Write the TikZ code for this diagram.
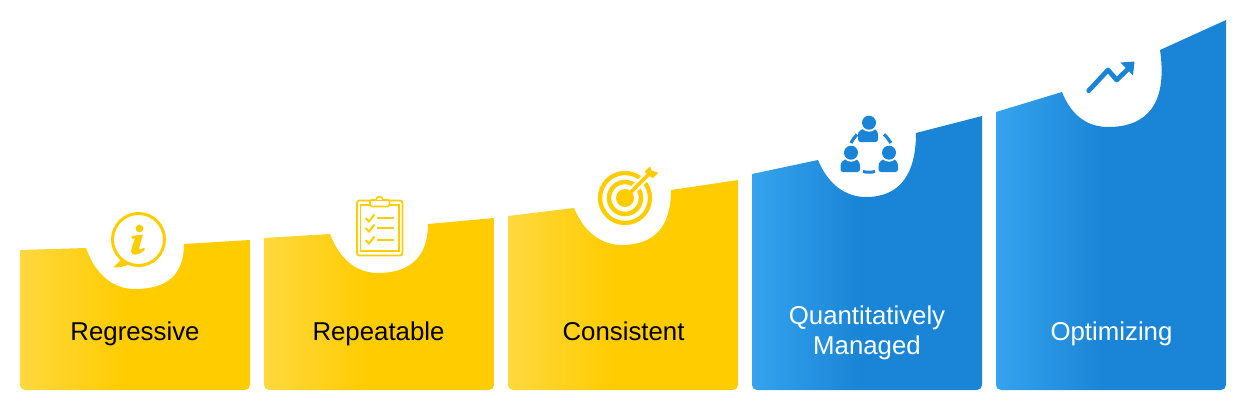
\documentclass[tikz,border=0pt]{standalone}
\usepackage{fontspec}
\setmainfont{Liberation Sans}
\usetikzlibrary{positioning}

\definecolor{goldfull}{HTML}{FFCC00}
\definecolor{goldlight}{HTML}{FFD83F}
\definecolor{bluefull}{HTML}{1A85D6}
\definecolor{bluelight}{HTML}{35A3EE}

\pgfdeclarehorizontalshading{goldfade}{100bp}{color(0bp)=(goldlight); color(25bp)=(goldlight); color(48bp)=(goldfull); color(100bp)=(goldfull)}
\pgfdeclarehorizontalshading{bluefade}{100bp}{color(0bp)=(bluelight); color(25bp)=(bluelight); color(48bp)=(bluefull); color(100bp)=(bluefull)}

\tikzset{
    goldpanel/.style={shading=goldfade},
    bluepanel/.style={shading=bluefade},
    label/.style={font=\fontsize{25.8}{29.5}\selectfont,align=center,anchor=base},
    goldline/.style={draw=goldfull,line width=#1},
    blueline/.style={draw=bluefull,line width=#1}
}

\begin{document}
\begin{tikzpicture}[x=1pt,y=-1pt]

        \useasboundingbox (0,0) rectangle (1254,410);

        % the five steps
        \shade[goldpanel] (20,250) -- (86,248) .. controls (96,276) and (114,289) .. (135,289) .. controls (168,289) and (184,274) .. (184,244) -- (250,240) [rounded corners=5pt] -- (250,390) -- (20,390) [sharp corners] -- cycle;
        \shade[goldpanel] (264,238) -- (330,234) .. controls (340,260) and (357,273) .. (378,273) .. controls (411,273) and (428,256) .. (428,224) -- (494,218) [rounded corners=5pt] -- (494,390) -- (264,390) [sharp corners] -- cycle;
        \shade[goldpanel] (508,216) -- (574,208) .. controls (584,232) and (601,245) .. (622,245) .. controls (655,245) and (671,226) .. (671,190) -- (738,180) [rounded corners=5pt] -- (738,390) -- (508,390) [sharp corners] -- cycle;
        \shade[bluepanel] (752,174) -- (818,160) .. controls (828,184) and (845,197) .. (866,197) .. controls (900,197) and (916,174) .. (916,133) -- (982,116) [rounded corners=5pt] -- (982,390) -- (752,390) [sharp corners] -- cycle;
        \shade[bluepanel] (996,112) -- (1062,92) .. controls (1071,115) and (1087,127) .. (1108,127) .. controls (1146,127) and (1168,105) .. (1160,50) -- (1226,20) [rounded corners=5pt] -- (1226,390) -- (996,390) [sharp corners] -- cycle;

        \begin{scope}[every node/.style={label}]
            \node[text=black] (regressive) at (135,340) {Regressive};
            \node[text=black] (repeatable) at (378.5,340) {Repeatable};
            \node[text=black] (consistent) at (623.5,340) {Consistent};
            \node[text=white] (managed) at (867,354) {Quantitatively\\Managed};
            \node[text=white] (optimizing) at (1111.5,340) {Optimizing};
        \end{scope}

        % info icon
        \draw[goldline=3pt] (138.5,239.5) circle (26);
        \fill[goldfull] (121,260) -- (113,267.5) .. controls (118,267.5) and (124,267) .. (129,264.5) -- cycle;
        \fill[goldfull] (139.5,228.5) circle (3.9);
        \fill[goldfull] (131.5,236) -- (143,234.5) -- (139,248) .. controls (138.5,250.5) and (141,250) .. (144,247.5) -- (145,249.5) .. controls (140,254.5) and (135,255.5) .. (132.5,254) .. controls (130.5,252.5) and (131,250) .. (132,247) -- (135,238.5) -- (131.5,238.5) -- cycle;

        % clipboard icon
        \draw[goldline=1.8pt,rounded corners=2.5pt] (357,200.5) rectangle (402.5,255.5);
        \draw[goldline=1.6pt] (360.5,205) rectangle (399,251);
        \draw[goldline=1.6pt,fill=white,rounded corners=1.5pt] (370,206.5) rectangle (389.5,200);
        \draw[goldline=1.6pt,fill=white] (376,200) .. controls (376,195.5) and (383,195.5) .. (383,200);
        \foreach \rowy in {218,228,240} {
            \draw[goldline=2pt] (365.5,\rowy) -- (369,\rowy+3.5) -- (374.5,\rowy-3.5);
            \draw[goldline=1.3pt] (377,\rowy) -- (394,\rowy);
        }

        % target icon
        \draw[goldline=4.3pt] (625,198) circle (25);
        \draw[goldline=4.5pt] (625,198) circle (16);
        \fill[goldfull] (625,198) circle (9);
        \draw[white,line width=8pt] (631,192) -- (652,171);
        \draw[goldline=3.6pt] (628,195) -- (650,173);
        \fill[goldfull] (644.5,171.5) -- (650,166.5) -- (651.5,170.5) -- (658.3,172.7) -- (653,178) -- (649,176) -- (647,174) -- cycle;

        % people icon
        \begin{scope}[every path/.style={fill=bluefull}]
            \path[rounded corners=2.5pt] (858,142) -- (858,132) -- (864,128) -- (874,128) -- (878,132) -- (878,142) -- cycle;
            \path[rounded corners=2.5pt] (840.5,172) -- (840.5,163) -- (846,158.5) -- (856,158.5) -- (860,163) -- (860,172) -- cycle;
            \path[rounded corners=2.5pt] (878.5,172) -- (878.5,163) -- (884,158.5) -- (894,158.5) -- (898,163) -- (898,172) -- cycle;
        \end{scope}
        \fill[white] (869,122.7) circle (9) (851,152.7) circle (9) (889,152.7) circle (9);
        \fill[bluefull] (869,122.7) circle (7) (851,152.7) circle (7) (889,152.7) circle (7);
        \draw[blueline=3.2pt] (851,143) .. controls (852.5,140) and (854.5,137) .. (857,134.5);
        \draw[blueline=3.2pt] (884,134.5) .. controls (887,137) and (889,140) .. (891,143);
        \draw[blueline=3pt] (863,171.5) .. controls (867,172.5) and (871,172.5) .. (875,171.5);

        % trend icon
        \draw[blueline=4.8pt,line cap=round,line join=round] (1088.7,90.7) -- (1108,70) -- (1116.7,80) -- (1127,70);
        \fill[bluefull] (1120.5,62.5) -- (1134.5,61.5) -- (1133,75.5) -- cycle;

    \end{tikzpicture}
\end{document}
